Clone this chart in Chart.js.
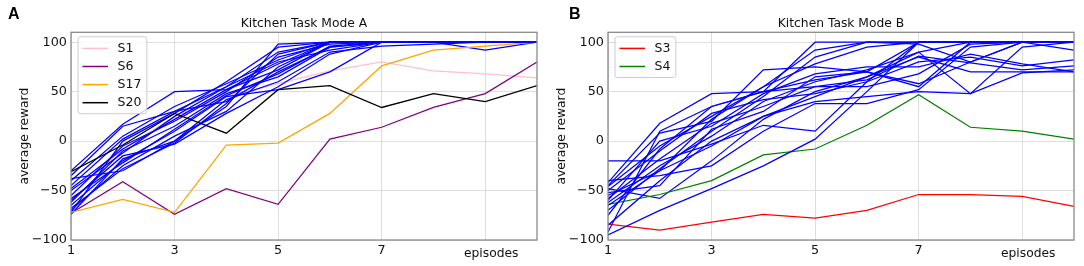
<!DOCTYPE html>
<html><head><meta charset="utf-8">
<script src="https://cdn.jsdelivr.net/npm/chart.js@4/dist/chart.umd.min.js"></script>
<style>
html,body{margin:0;padding:0;background:#fff;}
#wrap{position:relative;width:1084px;height:266px;overflow:hidden;background:#fff;}
canvas{position:absolute;top:0;}
.letter{position:absolute;font-family:"Liberation Sans",Arial,sans-serif;font-weight:bold;font-size:16px;line-height:16px;color:#000;}
</style></head><body>
<div id="wrap">
<canvas id="cA" width="545" height="266" style="left:0px"></canvas>
<canvas id="cB" width="545" height="266" style="left:537px"></canvas>
<div class="letter" style="left:8px;top:5.5px">A</div>
<div class="letter" style="left:569px;top:5.5px">B</div>
</div>
<script>
// ---------- data ----------
const episodes = [1, 2, 3, 4, 5, 6, 7, 8, 9, 10];
const xTickValues = [1, 3, 5, 7, 9];
const yTickValues = [-100, -50, 0, 50, 100];
const xAxisLabel = 'episodes';
const yAxisLabel = 'average reward';
const titleA = 'Kitchen Task Mode A';
const titleB = 'Kitchen Task Mode B';

// Mode A highlighted subjects
const modeA_S1  = [-55, -8, 25, 45, 58, 71, 80, 71, 68, 64];
const modeA_S6  = [-73, -41, -74, -48, -64, 2, 14, 34, 48, 80];
const modeA_S17 = [-72, -59, -72, -4, -2, 28, 76, 92, 96, 100];
const modeA_S20 = [-31, -4, 28, 8, 52, 56, 34, 48, 40, 56];
// Mode A remaining subjects (blue)
const modeA_others = [
  [-30, 17, 50, 52, 78, 100, 100, 100, 100, 100],
  [-38, -30, 0, 35, 98, 100, 100, 100, 100, 100],
  [-45, 2, 30, 40, 70, 95, 100, 100, 100, 100],
  [-50, -12, 25, 55, 90, 100, 100, 100, 100, 100],
  [-55, -5, 20, 50, 85, 98, 100, 100, 100, 100],
  [-60, -15, -3, 28, 55, 88, 100, 100, 100, 100],
  [-65, -20, 10, 45, 52, 70, 100, 100, 100, 100],
  [-70, -25, 5, 30, 75, 100, 100, 100, 100, 100],
  [-72, 0, 28, 60, 95, 100, 100, 100, 100, 100],
  [-35, 15, 30, 55, 80, 92, 100, 100, 92, 100],
  [-62, -10, 15, 48, 65, 95, 100, 100, 100, 100],
  [-68, -28, -2, 38, 88, 100, 100, 100, 100, 100],
  [-48, -8, 22, 52, 72, 100, 100, 100, 100, 100],
  [-74, -18, 0, 42, 60, 90, 96, 98, 100, 100],
  [-40, 5, 35, 58, 82, 100, 100, 100, 100, 100],
  [-58, -22, 12, 46, 68, 96, 100, 100, 100, 100]
];

// Mode B highlighted subjects
const modeB_S3 = [-84, -90, -82, -74, -78, -70, -54, -54, -56, -66];
const modeB_S4 = [-64, -54, -40, -14, -8, 16, 47, 14, 10, 2];
// Mode B remaining subjects (blue)
const modeB_others = [
  [-20, -20, -3, 16, 10, 60, 100, 100, 100, 100],
  [-48, -58, -20, 22, 50, 65, 90, 100, 100, 100],
  [-95, -70, -48, -25, 2, 50, 100, 100, 100, 100],
  [-92, 10, 35, 50, 100, 100, 100, 100, 100, 100],
  [-42, 18, 48, 50, 62, 70, 100, 100, 100, 92],
  [-45, 8, 20, 72, 75, 70, 55, 100, 100, 100],
  [-55, -30, 22, 55, 92, 100, 100, 100, 100, 100],
  [-62, -25, 5, 40, 60, 72, 90, 48, 95, 100],
  [-70, -28, 10, 45, 85, 100, 98, 80, 100, 100],
  [-50, -10, 28, 42, 48, 60, 80, 85, 76, 82],
  [-75, -8, 35, 50, 55, 62, 86, 79, 72, 76],
  [-85, -40, 0, 25, 40, 45, 50, 48, 69, 72],
  [-60, 0, 15, 48, 68, 75, 75, 88, 78, 70],
  [-40, -35, -25, 10, 38, 38, 52, 95, 100, 100],
  [-52, -45, 12, 30, 65, 70, 58, 80, 100, 100],
  [-58, -18, 18, 35, 55, 55, 68, 98, 100, 100],
  [-65, -30, -5, 25, 45, 65, 85, 70, 70, 70],
  [-46, -5, 25, 55, 78, 95, 100, 100, 100, 100]
];

// ---------- styling ----------
const FONT = '"DejaVu Sans", sans-serif';
const otherColor = '#0000ff';

function buildDatasets(highlights, others, count) {
  const ds = [];
  let k = 0;
  for (let i = 1; i <= count; i++) {
    const name = 'S' + i;
    let d, color, label;
    if (highlights[name]) {
      d = highlights[name].data; color = highlights[name].color; label = name;
    } else {
      d = others[k++]; color = otherColor; label = '';
    }
    ds.push({
      label: label,
      data: d,
      borderColor: color,
      backgroundColor: color,
      borderWidth: 1.25,
      pointRadius: 0,
      pointHoverRadius: 0,
      tension: 0,
      fill: false,
      order: 100 - i
    });
  }
  return ds;
}

const framePlugin = {
  id: 'frame',
  afterDatasetsDraw(chart) {
    const {ctx, chartArea: a} = chart;
    ctx.save();
    ctx.strokeStyle = '#8a8a8a';
    ctx.lineWidth = 1.3;
    ctx.strokeRect(a.left, a.top, a.right - a.left, a.bottom - a.top);
    ctx.restore();
  }
};

const plotTitlePlugin = {
  id: 'plotTitle',
  afterDraw(chart, args, opts) {
    const {ctx, chartArea: a} = chart;
    ctx.save();
    ctx.font = '12.3px ' + FONT;
    ctx.fillStyle = '#111';
    ctx.textAlign = 'center';
    ctx.textBaseline = 'middle';
    ctx.fillText(opts.text, (a.left + a.right) / 2, a.top - 8);
    ctx.restore();
  }
};

const xLabelPlugin = {
  id: 'xLabel',
  afterDraw(chart, args, opts) {
    const {ctx} = chart;
    const xs = chart.scales.x;
    ctx.save();
    ctx.font = '12.3px ' + FONT;
    ctx.fillStyle = '#111';
    ctx.textAlign = 'center';
    ctx.textBaseline = 'alphabetic';
    ctx.fillText(opts.text, xs.getPixelForValue(opts.at) + 6, chart.chartArea.bottom + 16.5);
    ctx.restore();
  }
};

const boxLegendPlugin = {
  id: 'boxLegend',
  afterDraw(chart, args, opts) {
    const {ctx, chartArea: a} = chart;
    const items = chart.data.datasets.filter(d => d.label);
    const left = a.left + 7, top = a.top + 4.5;
    const row0 = top + 11.6, step = 18.1;
    const bottom = row0 + step * (items.length - 1) + 11;
    ctx.save();
    ctx.font = '12.5px ' + FONT;
    let maxW = 0;
    items.forEach(d => { maxW = Math.max(maxW, ctx.measureText(d.label).width); });
    const width = 39.5 + maxW + 5.5;
    ctx.beginPath();
    const r = 2.5, x0 = left, y0 = top, x1 = left + width, y1 = bottom;
    ctx.moveTo(x0 + r, y0);
    ctx.lineTo(x1 - r, y0); ctx.quadraticCurveTo(x1, y0, x1, y0 + r);
    ctx.lineTo(x1, y1 - r); ctx.quadraticCurveTo(x1, y1, x1 - r, y1);
    ctx.lineTo(x0 + r, y1); ctx.quadraticCurveTo(x0, y1, x0, y1 - r);
    ctx.lineTo(x0, y0 + r); ctx.quadraticCurveTo(x0, y0, x0 + r, y0);
    ctx.closePath();
    ctx.fillStyle = 'rgba(255,255,255,0.8)';
    ctx.fill();
    ctx.strokeStyle = '#cccccc';
    ctx.lineWidth = 1;
    ctx.stroke();
    items.forEach((d, i) => {
      const y = row0 + i * step;
      ctx.strokeStyle = d.borderColor;
      ctx.lineWidth = 1.5;
      ctx.beginPath();
      ctx.moveTo(left + 4.5, y);
      ctx.lineTo(left + 30, y);
      ctx.stroke();
      ctx.fillStyle = '#111';
      ctx.textAlign = 'left';
      ctx.textBaseline = 'middle';
      ctx.fillText(d.label, left + 39.5, y + 0.5);
    });
    ctx.restore();
  }
};

function makeChart(id, title, datasets) {
  return new Chart(document.getElementById(id), {
    type: 'line',
    data: { labels: episodes, datasets: datasets },
    options: {
      responsive: false,
      animation: false,
      devicePixelRatio: 1,
      layout: { padding: { left: 0, right: 8, top: 32.3, bottom: 0 } },
      plugins: {
        legend: { display: false },
        tooltip: { enabled: false },
        title: { display: false },
        plotTitle: { text: title },
        xLabel: { text: xAxisLabel, at: 9 },
        boxLegend: {}
      },
      scales: {
        x: {
          type: 'linear',
          min: 1, max: 10,
          afterBuildTicks: (axis) => { axis.ticks = xTickValues.map(v => ({ value: v })); },
          afterFit: (axis) => { axis.height = 26; },
          ticks: {
            color: '#111',
            font: { family: FONT, size: 12.8 },
            padding: 3,
            maxRotation: 0,
            autoSkip: false,
            callback: (v) => (v === 9 ? '' : String(v))
          },
          grid: { color: '#dddddd', lineWidth: 1, drawTicks: false },
          border: { display: false }
        },
        y: {
          type: 'linear',
          min: -100, max: 110,
          afterBuildTicks: (axis) => { axis.ticks = yTickValues.map(v => ({ value: v })); },
          afterFit: (axis) => { axis.width = 71; },
          ticks: {
            color: '#111',
            font: { family: FONT, size: 12.8 },
            padding: 4,
            callback: (v) => (v < 0 ? '\u2212' + Math.abs(v) : String(v))
          },
          grid: { color: '#dddddd', lineWidth: 1, drawTicks: false },
          border: { display: false },
          title: {
            display: true,
            text: yAxisLabel,
            color: '#111',
            font: { family: FONT, size: 12.3 },
            padding: { top: 17.6, bottom: 0 }
          }
        }
      }
    },
    plugins: [framePlugin, plotTitlePlugin, xLabelPlugin, boxLegendPlugin]
  });
}

makeChart('cA', titleA, buildDatasets({
  S1: { data: modeA_S1, color: 'pink' },
  S6: { data: modeA_S6, color: 'purple' },
  S17: { data: modeA_S17, color: 'orange' },
  S20: { data: modeA_S20, color: 'black' }
}, modeA_others, 20));

makeChart('cB', titleB, buildDatasets({
  S3: { data: modeB_S3, color: 'red' },
  S4: { data: modeB_S4, color: 'green' }
}, modeB_others, 20));
</script>
</body></html>
